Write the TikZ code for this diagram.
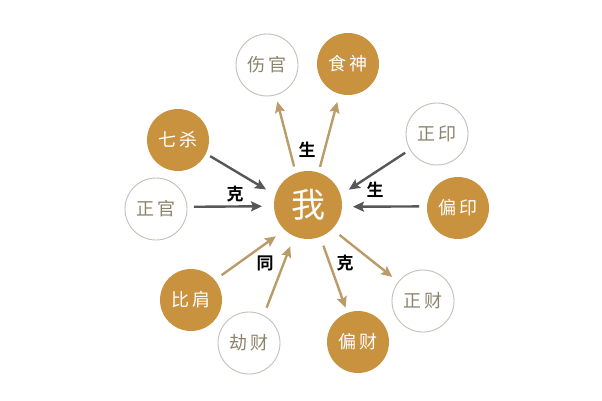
\documentclass[tikz,border=0pt]{standalone}
\usepackage{fontspec}
\newfontfamily\cjk{Noto Sans CJK SC}
\newfontfamily\cjkb{Noto Sans CJK SC}[BoldFont={* Bold}]
\usetikzlibrary{arrows.meta}
\definecolor{gold}{HTML}{C8923F}
\definecolor{darkarrow}{HTML}{575757}
\definecolor{tanarrow}{HTML}{BB9C68}
\definecolor{ringgrey}{HTML}{C2C0B8}
\definecolor{ringtext}{HTML}{8C846A}
\tikzset{
  filled/.style={circle, fill=gold, minimum size=62pt, inner sep=0pt, outer sep=0pt,
    text=white, font=\cjk\fontsize{18}{18}\selectfont},
  ring/.style={circle, draw=ringgrey, line width=0.9pt, fill=white, minimum size=62pt, inner sep=0pt, outer sep=0pt,
    text=ringtext, font=\cjk\fontsize{18}{18}\selectfont},
  self/.style={circle, fill=gold, minimum size=68pt, inner sep=0pt, outer sep=0pt,
    text=white, font=\cjk\fontsize{34}{34}\selectfont},
  darrow/.style={draw=darkarrow, line width=2.4pt, -{Stealth[length=11pt,width=10pt,inset=2pt]}},
  tarrow/.style={draw=tanarrow, line width=2.4pt, -{Stealth[length=11pt,width=10pt,inset=2pt]}},
  lab/.style={text=black, font=\cjkb\bfseries\fontsize{17}{17}\selectfont, inner sep=0pt}
}
\newcommand{\tw}[2]{#1\hspace{3pt}#2}
\begin{document}
\begin{tikzpicture}[x=1pt,y=-1pt]
\useasboundingbox (0,0) rectangle (602,401);
\fill[white] (0,0) rectangle (602,401);
\node[self] (wo) at (308,205) {我};
\node[ring] (shangguan) at (267,65) {\tw{伤}{官}};
\node[filled] (shishen) at (348,64) {\tw{食}{神}};
\node[filled] (qisha) at (178,140) {\tw{七}{杀}};
\node[ring] (zhengguan) at (156,209) {\tw{正}{官}};
\node[ring] (zhengyin) at (437,134) {\tw{正}{印}};
\node[filled] (pianyin) at (458,208) {\tw{偏}{印}};
\node[filled] (bijian) at (191,300) {\tw{比}{肩}};
\node[ring] (jiecai) at (249,343) {\tw{劫}{财}};
\node[filled] (piancai) at (358,342) {\tw{偏}{财}};
\node[ring] (zhengcai) at (423,301) {\tw{正}{财}};

\draw[darrow, shorten <=5pt, shorten >=11pt] (qisha.-26.6) -- (wo.163.2);
\draw[darrow, shorten <=7pt, shorten >=12pt] (zhengguan.4.5) -- (wo.182.5);
\draw[darrow, shorten <=6pt, shorten >=10pt] (zhengyin.210.7) -- (wo.17.2);
\draw[darrow, shorten <=8pt, shorten >=11pt] (pianyin.177) -- (wo.-3.8);
\draw[tarrow, shorten <=7pt, shorten >=7pt] (wo.111.5) -- (shangguan.-74.9);
\draw[tarrow, shorten <=6pt, shorten >=8.5pt] (wo.72.5) -- (shishen.-106.1);
\draw[tarrow, shorten <=8.5pt, shorten >=11pt] (bijian.40.9) -- (wo.-133.2);
\draw[tarrow, shorten <=8.5pt, shorten >=11pt] (jiecai.62.8) -- (wo.-114.9);
\draw[tarrow, shorten <=9.5pt, shorten >=5.5pt] (wo.-69.9) -- (piancai.110.9);
\draw[tarrow, shorten <=9.5pt, shorten >=8pt] (wo.-45) -- (zhengcai.142.3);

\node[lab] (ke1) at (235,194) {克};
\node[lab] (sheng1) at (307,150) {生};
\node[lab] (sheng2) at (375,190) {生};
\node[lab] (tong) at (265,263) {同};
\node[lab] (ke2) at (345,263) {克};
\end{tikzpicture}
\end{document}
